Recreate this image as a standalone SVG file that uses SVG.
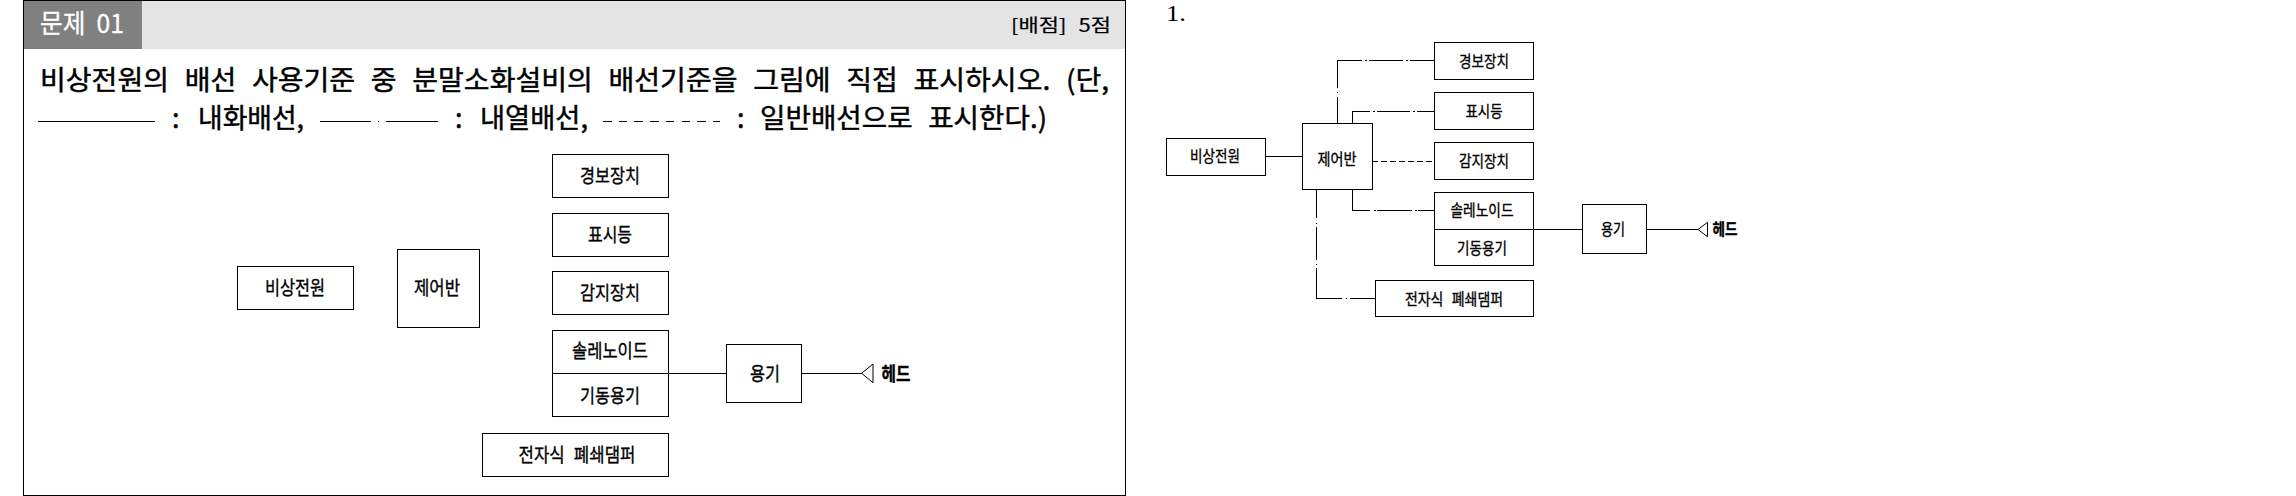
<svg xmlns="http://www.w3.org/2000/svg" width="2296" height="496" viewBox="0 0 2296 496">
<style>
text{font-family:"Noto Sans CJK KR","Noto Sans",sans-serif;fill:#000;stroke:#000;stroke-width:.35;text-anchor:middle;font-size:19px;word-spacing:6px}
.r{font-size:16px}
.b{fill:#fff;stroke:#000;stroke-width:1;shape-rendering:crispEdges}
.t{fill:#fff;stroke:#000;stroke-width:1}
.c{fill:none;stroke:#000;stroke-width:1;shape-rendering:crispEdges}
.q{font-size:27px;text-anchor:start;stroke-width:.45;word-spacing:9px}
</style>
<rect width="2296" height="496" fill="#fff"/>
<g id="header">
<rect x="24" y="1" width="1101" height="48" fill="#e4e4e4"/>
<rect x="24" y="1" width="118" height="48" fill="#808080"/>
<path class="c" d="M23.500 495.500V.5H1125.500V495.500H23.500"/>
<text x="82" y="33" style="font-size:26px;fill:#fff;stroke:#fff;stroke-width:.3" textLength="84" lengthAdjust="spacingAndGlyphs">문제 01</text>
<text x="1061" y="32" textLength="100" lengthAdjust="spacingAndGlyphs" style="font-size:18px;stroke-width:.2">[배점] 5점</text>
</g>
<g id="question">
<text class="q" x="40" y="90" textLength="1069" lengthAdjust="spacingAndGlyphs">비상전원의 배선 사용기준 중 분말소화설비의 배선기준을 그림에 직접 표시하시오. (단,</text>
<text class="q" x="172" y="128">:</text>
<text class="q" x="198" y="128" textLength="106" lengthAdjust="spacingAndGlyphs">내화배선,</text>
<text class="q" x="455" y="128">:</text>
<text class="q" x="480" y="128" textLength="108" lengthAdjust="spacingAndGlyphs">내열배선,</text>
<text class="q" x="737" y="128">:</text>
<text class="q" x="760" y="128" textLength="287" lengthAdjust="spacingAndGlyphs">일반배선으로 표시한다.)</text>
<path class="c" d="M38 121.500H155"/>
<path class="c" d="M320 121.500H371M378 121.500H379M386 121.500H438"/>
<path class="c" d="M603 121.500H720" stroke-dasharray="8.500 7.200"/>
</g>
<g id="left-connectors">
<path class="c" d="M668.500 373.500H726.500M801.500 373.500H861.600"/>
</g>
<g id="l-warn"><rect class="b" x="552.500" y="154.500" width="116" height="43"/><text x="610" y="183" textLength="60" lengthAdjust="spacingAndGlyphs">경보장치</text></g>
<g id="l-lamp"><rect class="b" x="552.500" y="213.500" width="116" height="43"/><text x="610" y="242" textLength="44" lengthAdjust="spacingAndGlyphs">표시등</text></g>
<g id="l-sense"><rect class="b" x="552.500" y="271.500" width="116" height="43"/><text x="610" y="300" textLength="60" lengthAdjust="spacingAndGlyphs">감지장치</text></g>
<g id="l-sol"><rect class="b" x="552.500" y="330.500" width="116" height="86"/><path class="c" d="M552.500 373.500H668.500"/><text x="610" y="358" textLength="76" lengthAdjust="spacingAndGlyphs">솔레노이드</text><text x="610" y="403" textLength="60" lengthAdjust="spacingAndGlyphs">기동용기</text></g>
<g id="l-vessel"><rect class="b" x="726.500" y="344.500" width="75" height="58"/><text x="765" y="381" textLength="30" lengthAdjust="spacingAndGlyphs">용기</text></g>
<g id="l-head"><path class="t" d="M861.600 373.300L873 364V382.700Z"/><text x="896" y="381" textLength="29" lengthAdjust="spacingAndGlyphs" style="font-weight:700">헤드</text></g>
<g id="l-damper"><rect class="b" x="482.500" y="433.500" width="186" height="43"/><text x="577" y="462" textLength="117" lengthAdjust="spacingAndGlyphs">전자식 폐쇄댐퍼</text></g>
<g id="l-panel"><rect class="b" x="397.500" y="249.500" width="82" height="78"/><text x="437" y="295" textLength="46" lengthAdjust="spacingAndGlyphs">제어반</text></g>
<g id="l-source"><rect class="b" x="237.500" y="266.500" width="116" height="43"/><text x="295" y="295" textLength="60" lengthAdjust="spacingAndGlyphs">비상전원</text></g>

<text x="1166" y="21" textLength="20" lengthAdjust="spacingAndGlyphs" style="font-family:'Liberation Serif',serif;font-size:24px;text-anchor:start;stroke:none">1.</text>
<g id="connectors">
<path class="c" d="M1265.500 156.500H1302.500M1533.500 229.500H1582.500M1646.500 229.500H1698"/>
<path class="c" d="M1337.500 123V97M1337.500 93V92M1337.500 88V60.500H1362M1365 60.500H1367M1369 60.500H1403M1406 60.500H1408M1410 60.500H1434"/>
<path class="c" d="M1352.500 123V111.500H1370M1373 111.500H1375M1377 111.500H1410M1413 111.500H1415M1417 111.500H1434"/>
<path class="c" d="M1372 161.500H1434" stroke-dasharray="6 3"/>
<path class="c" d="M1352.500 190V210.500H1370M1374 210.500H1376M1377 210.500H1412M1415 210.500H1417M1418 210.500H1434"/>
<path class="c" d="M1316.500 190V218M1316.500 223V224M1316.500 227V260M1316.500 264V265M1316.500 268V298.500H1342M1346 298.500H1347M1350 298.500H1375"/>
</g>
<g id="warn"><rect class="b" x="1434.500" y="42.500" width="99" height="37"/><text class="r" x="1484" y="67" textLength="50" lengthAdjust="spacingAndGlyphs">경보장치</text></g>
<g id="lamp"><rect class="b" x="1434.500" y="92.500" width="99" height="37"/><text class="r" x="1484" y="117" textLength="37" lengthAdjust="spacingAndGlyphs">표시등</text></g>
<g id="sense"><rect class="b" x="1434.500" y="142.500" width="99" height="37"/><text class="r" x="1484" y="167" textLength="50" lengthAdjust="spacingAndGlyphs">감지장치</text></g>
<g id="sol"><rect class="b" x="1434.500" y="192.500" width="99" height="73"/><path class="c" d="M1434.500 229.500H1533.500"/><text class="r" x="1482" y="216" textLength="63" lengthAdjust="spacingAndGlyphs">솔레노이드</text><text class="r" x="1482" y="254" textLength="50" lengthAdjust="spacingAndGlyphs">기동용기</text></g>
<g id="vessel"><rect class="b" x="1582.500" y="204.500" width="64" height="49"/><text class="r" x="1613" y="235" textLength="24" lengthAdjust="spacingAndGlyphs">용기</text></g>
<g id="head"><path class="t" d="M1698 229.500L1707.500 222.300V236.700Z"/><text class="r" x="1725" y="235" textLength="25" lengthAdjust="spacingAndGlyphs" style="font-weight:700">헤드</text></g>
<g id="damper"><rect class="b" x="1375.500" y="280.500" width="158" height="36"/><text class="r" x="1454" y="305" textLength="98" lengthAdjust="spacingAndGlyphs">전자식 폐쇄댐퍼</text></g>
<g id="panel"><rect class="b" x="1302.500" y="123.500" width="70" height="66"/><text class="r" x="1337" y="165" textLength="39" lengthAdjust="spacingAndGlyphs">제어반</text></g>
<g id="source"><rect class="b" x="1166.500" y="138.500" width="99" height="37"/><text class="r" x="1215" y="162" textLength="50" lengthAdjust="spacingAndGlyphs">비상전원</text></g>
</svg>
